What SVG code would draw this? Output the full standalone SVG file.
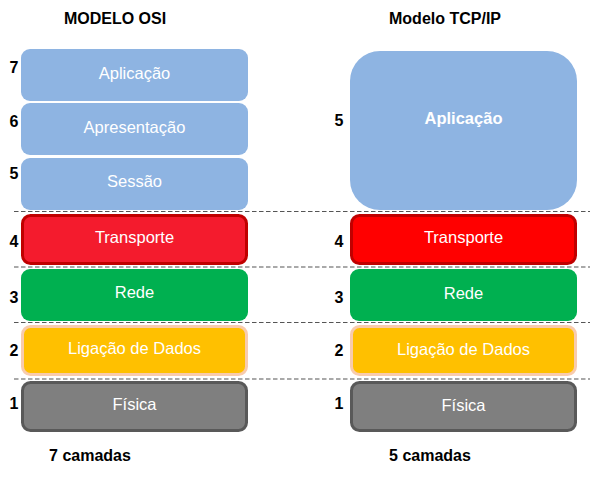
<svg xmlns="http://www.w3.org/2000/svg" width="590" height="477" viewBox="0 0 590 477">
<style>
.t{font-family:"Liberation Sans",Arial,sans-serif;font-weight:bold;font-size:16px;fill:#000;text-anchor:middle}
.n{font-family:"Liberation Sans",Arial,sans-serif;font-weight:bold;font-size:16px;fill:#000;text-anchor:middle}
.l{font-family:"Liberation Sans",Arial,sans-serif;font-size:16.5px;fill:#fff;text-anchor:middle}
.blue{fill:#8EB4E2}
.red1{fill:#F41B2D;stroke:#C00000;stroke-width:3}
.red2{fill:#FF0000;stroke:#C00000;stroke-width:3}
.green{fill:#00B050}
.orange{fill:#FFC000;stroke:#F8CBAD;stroke-width:3}
.gray{fill:#7F7F7F;stroke:#595959;stroke-width:3}
.dash{stroke:#555;stroke-width:1.2;stroke-dasharray:4.5 2.5;fill:none}
</style>
<g id="titles">
<text class="t" x="115" y="24">MODELO OSI</text>
<text class="t" x="445" y="24">Modelo TCP/IP</text>
<text class="t" x="90" y="461">7 camadas</text>
<text class="t" x="430" y="461">5 camadas</text>
</g>
<g id="connectors">
<line class="dash" x1="14" y1="211.5" x2="590" y2="211.5"/>
<line class="dash" x1="14" y1="267" x2="590" y2="267"/>
<line class="dash" x1="14" y1="322.5" x2="590" y2="322.5"/>
<line class="dash" x1="14" y1="379" x2="590" y2="379"/>
</g>
<g id="osi-7"><rect class="blue" x="21" y="49" width="227" height="52" rx="9"/><text class="l" x="134.5" y="79">Aplicação</text><text class="n" x="14" y="73">7</text></g>
<g id="osi-6"><rect class="blue" x="21" y="103" width="227" height="52" rx="9"/><text class="l" x="134.5" y="133">Apresentação</text><text class="n" x="14" y="127">6</text></g>
<g id="osi-5"><rect class="blue" x="21" y="158" width="227" height="52" rx="9"/><text class="l" x="134.5" y="187">Sessão</text><text class="n" x="14" y="179">5</text></g>
<g id="osi-4"><rect class="red1" x="22.5" y="215.5" width="224" height="48" rx="8"/><text class="l" x="134.5" y="243">Transporte</text><text class="n" x="14" y="247">4</text></g>
<g id="osi-3"><rect class="green" x="21" y="269" width="227" height="52" rx="9"/><text class="l" x="134.5" y="298">Rede</text><text class="n" x="14" y="303">3</text></g>
<g id="osi-2"><rect class="orange" x="22.5" y="326.5" width="224" height="48" rx="8"/><text class="l" x="134.5" y="354">Ligação de Dados</text><text class="n" x="14" y="356">2</text></g>
<g id="osi-1"><rect class="gray" x="22.5" y="382.5" width="224" height="48" rx="8"/><text class="l" x="134.5" y="410">Física</text><text class="n" x="14" y="409">1</text></g>
<g id="tcp-5"><rect class="blue" x="350" y="51" width="227" height="159" rx="30"/><text class="l" x="463.5" y="124" font-weight="bold">Aplicação</text><text class="n" x="339" y="126">5</text></g>
<g id="tcp-4"><rect class="red2" x="351.5" y="215.5" width="224" height="48" rx="8"/><text class="l" x="463.5" y="243">Transporte</text><text class="n" x="339" y="247">4</text></g>
<g id="tcp-3"><rect class="green" x="350" y="269" width="227" height="52" rx="9"/><text class="l" x="463.5" y="299">Rede</text><text class="n" x="339" y="303">3</text></g>
<g id="tcp-2"><rect class="orange" x="351.5" y="326.5" width="224" height="48" rx="8"/><text class="l" x="463.5" y="355">Ligação de Dados</text><text class="n" x="339" y="356">2</text></g>
<g id="tcp-1"><rect class="gray" x="351.5" y="382.5" width="224" height="48" rx="8"/><text class="l" x="463.5" y="411">Física</text><text class="n" x="339" y="409">1</text></g>
</svg>
